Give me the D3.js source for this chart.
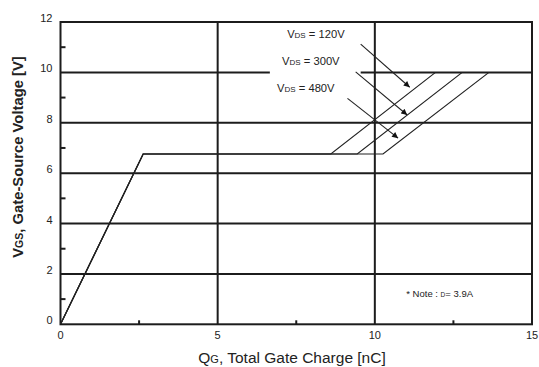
<!DOCTYPE html>
<html>
<head>
<meta charset="utf-8">
<script src="https://cdn.jsdelivr.net/npm/d3@7"></script>
<style>
  html, body { margin: 0; padding: 0; background: #fff; }
  svg { display: block; font-family: "Liberation Sans", Arial, sans-serif; }
</style>
</head>
<body>
<svg id="chart" width="539" height="367"></svg>
<script>
// Gate charge characteristic: VGS vs QG for three drain-source voltages
const vdsLabels = ["120V", "300V", "480V"];
const plateauStart = [2.63, 6.76];        // [QG nC, VGS V] where the Miller plateau begins
const plateauEnd = [8.6, 9.44, 10.26];     // QG at end of plateau, per VDS
const riseEnd = [11.93, 12.78, 13.63];     // QG where VGS reaches 10 V, per VDS
const finalVgs = 10;

// Leader arrows from each label to its curve: [qgFrom, vgsFrom, qgTo, vgsTo]
const arrowFrom = [[9.55, 11.12], [9.39, 10.02], [9.13, 8.97]];
const arrowTo = [[11.11, 9.41], [11.03, 8.31], [10.74, 7.39]];

const xTicks = [0, 5, 10, 15];
const yTicks = [0, 2, 4, 6, 8, 10, 12];
const xMinorTicks = [2.5, 7.5, 12.5];
const yMinorTicks = [1, 3, 5, 7, 9, 11];
const noteText = "3.9A";

const svg = d3.select("#chart");
const plot = { left: 60.5, right: 532, top: 22, bottom: 324.3 };

const x = d3.scaleLinear().domain([0, 15]).range([plot.left, plot.right]);
const y = d3.scaleLinear().domain([0, 12]).range([plot.bottom, plot.top]);

const ink = "#1c1c1c";

// Horizontal grid lines; the 10 V line is broken to leave room for the labels
const hGrid = svg.append("g");
[2, 4, 6, 8].forEach(v => {
  hGrid.append("line")
    .attr("x1", x(0)).attr("x2", x(15))
    .attr("y1", y(v)).attr("y2", y(v))
    .attr("stroke", ink).attr("stroke-width", 2);
});
[[0, 6.66], [9.55, 15]].forEach(([a, b]) => {
  hGrid.append("line")
    .attr("x1", x(a)).attr("x2", x(b))
    .attr("y1", y(10)).attr("y2", y(10))
    .attr("stroke", ink).attr("stroke-width", 2);
});

// Vertical grid lines
[5, 10].forEach(v => {
  svg.append("line")
    .attr("x1", x(v)).attr("x2", x(v))
    .attr("y1", y(0)).attr("y2", y(12))
    .attr("stroke", ink).attr("stroke-width", 2);
});

// Frame
svg.append("rect")
  .attr("x", x(0)).attr("y", y(12))
  .attr("width", x(15) - x(0)).attr("height", y(0) - y(12))
  .attr("fill", "none").attr("stroke", ink).attr("stroke-width", 2);

// Minor ticks
svg.append("g").selectAll("line").data(yMinorTicks).join("line")
  .attr("x1", x(0)).attr("x2", x(0) + 5)
  .attr("y1", d => y(d)).attr("y2", d => y(d))
  .attr("stroke", ink).attr("stroke-width", 2);
svg.append("g").selectAll("line").data(xMinorTicks).join("line")
  .attr("x1", d => x(d)).attr("x2", d => x(d))
  .attr("y1", y(0)).attr("y2", y(0) - 4)
  .attr("stroke", ink).attr("stroke-width", 2);

// Tick labels
svg.append("g").selectAll("text").data(yTicks).join("text")
  .attr("x", 52.5).attr("y", d => y(d))
  .attr("text-anchor", "end")
  .attr("font-size", 11).attr("fill", "#222")
  .text(d => d);
svg.append("g").selectAll("text").data(xTicks).join("text")
  .attr("x", d => x(d)).attr("y", 338.5)
  .attr("text-anchor", "middle")
  .attr("font-size", 11).attr("fill", "#222")
  .text(d => d);

// Gate charge curves
const line = d3.line().x(d => x(d[0])).y(d => y(d[1]));
const curves = vdsLabels.map((v, i) => [
  [0, 0],
  plateauStart,
  [plateauEnd[i], plateauStart[1]],
  [riseEnd[i], finalVgs]
]);
svg.append("g").selectAll("path").data(curves).join("path")
  .attr("d", line)
  .attr("fill", "none")
  .attr("stroke", "#222")
  .attr("stroke-width", 1.2);

// Arrowhead marker
svg.append("defs").append("marker")
  .attr("id", "arrowhead")
  .attr("viewBox", "0 0 10 10")
  .attr("refX", 10).attr("refY", 5)
  .attr("markerWidth", 7).attr("markerHeight", 6)
  .attr("markerUnits", "userSpaceOnUse")
  .attr("orient", "auto")
  .append("path")
  .attr("d", "M0,0 L10,5 L0,10 Z")
  .attr("fill", "#111");

svg.append("g").selectAll("line").data(vdsLabels).join("line")
  .attr("x1", (d, i) => x(arrowFrom[i][0]))
  .attr("y1", (d, i) => y(arrowFrom[i][1]))
  .attr("x2", (d, i) => x(arrowTo[i][0]))
  .attr("y2", (d, i) => y(arrowTo[i][1]))
  .attr("stroke", "#222").attr("stroke-width", 1.1)
  .attr("marker-end", "url(#arrowhead)");

// VDS labels (left edge and baseline in chart units)
const labelAnchor = [[7.21, 11.36], [7.05, 10.29], [6.89, 9.22]];
const labels = svg.append("g").selectAll("text").data(vdsLabels).join("text")
  .attr("x", (d, i) => x(labelAnchor[i][0]))
  .attr("y", (d, i) => y(labelAnchor[i][1]))
  .attr("font-size", 11.2).attr("fill", "#222");
labels.append("tspan").text("V");
labels.append("tspan").attr("font-size", 8).text("DS");
labels.append("tspan").text(d => " = " + d);

// Note
const note = svg.append("text")
  .attr("x", x(11.0)).attr("y", y(1.07))
  .attr("font-size", 9.5).attr("fill", "#222");
note.append("tspan").text("* Note : ");
note.append("tspan").attr("font-size", 6.5).text("D");
note.append("tspan").text("= " + noteText);

// Axis titles
const xTitle = svg.append("text")
  .attr("x", 292).attr("y", 362.5)
  .attr("text-anchor", "middle")
  .attr("font-size", 15.5).attr("fill", "#222");
xTitle.append("tspan").text("Q");
xTitle.append("tspan").attr("font-size", 11).text("G");
xTitle.append("tspan").text(", Total Gate Charge [nC]");

const yTitle = svg.append("text")
  .attr("transform", "translate(23,157) rotate(-90)")
  .attr("text-anchor", "middle")
  .attr("font-size", 14.8).attr("font-weight", "bold").attr("fill", "#222");
yTitle.append("tspan").text("V");
yTitle.append("tspan").attr("font-size", 10.5).text("GS");
yTitle.append("tspan").text(", Gate-Source Voltage [V]");
</script>
</body>
</html>
